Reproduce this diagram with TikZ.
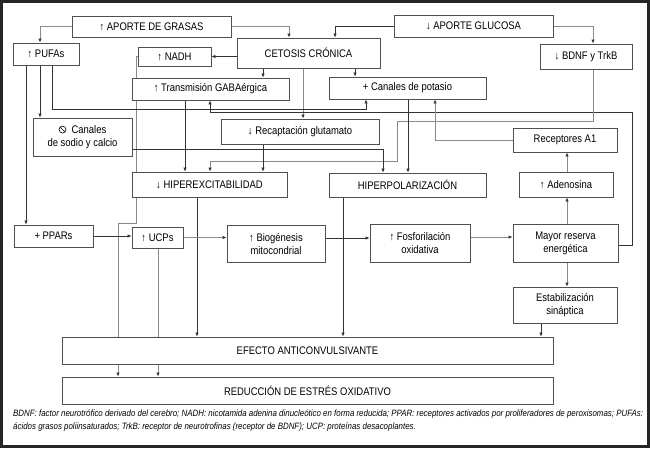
\documentclass[tikz,border=0pt]{standalone}
\usepackage{fontspec}
\setmainfont{Liberation Sans}[FakeStretch=0.86]
\usetikzlibrary{arrows.meta,backgrounds}
\definecolor{bx}{HTML}{505050}
\definecolor{lnd}{HTML}{333333}
\definecolor{lng}{HTML}{8A8A8A}
\begin{document}
\begin{tikzpicture}[x=1pt,y=-1pt,
  box/.style={draw=bx,line width=0.8pt,fill=white,inner sep=0pt,align=center,font=\fontsize{11}{13}\selectfont},
  conn/.style={draw=lnd,line width=0.7pt},
  conng/.style={draw=lng,line width=0.9pt},
  tip/.style={-{Latex[length=4pt,width=3.4pt,color=lnd]}}
]
\useasboundingbox (0,0) rectangle (650,448);
\draw[line width=2.6pt,draw=black!85] (1.3,1.3) rectangle (648.7,446.7);

\node[box,minimum width=159pt,minimum height=21pt] (grasas) at (151.5,26.5) {↑ APORTE DE GRASAS};
\node[box,minimum width=159pt,minimum height=22pt] (glucosa) at (473.5,26) {↓ APORTE GLUCOSA};
\node[box,minimum width=66pt,minimum height=22pt] (pufas) at (46,54) {↑ PUFAs};
\node[box,minimum width=73pt,minimum height=19pt] (nadh) at (174.5,56.5) {↑ NADH};
\node[box,minimum width=143pt,minimum height=30pt] (cetosis) at (308.5,53) {CETOSIS CRÓNICA};
\node[box,minimum width=92pt,minimum height=25pt] (bdnf) at (586,56.5) {↓ BDNF y TrkB};
\node[box,minimum width=157pt,minimum height=22pt] (gaba) at (210.5,89) {↑ Transmisión GABAérgica};
\node[box,minimum width=157pt,minimum height=22pt] (potasio) at (407.5,88) {+ Canales de potasio};
\node[box,minimum width=99pt,minimum height=38pt] (sodio) at (82.5,137) {\tikz[baseline=-3.8pt]{\draw[line width=0.6pt] (0pt,0pt) circle (3.5pt); \draw[line width=0.6pt] (-2.4pt,2.4pt) -- (2.4pt,-2.4pt);}\ \ Canales\\de sodio y calcio};
\node[box,minimum width=158pt,minimum height=25pt] (recap) at (300,131.5) {↓ Recaptación glutamato};
\node[box,minimum width=104pt,minimum height=24pt] (a1) at (565,140) {Receptores A1};
\node[box,minimum width=155pt,minimum height=25pt] (hiperex) at (209.5,184.5) {↓ HIPEREXCITABILIDAD};
\node[box,minimum width=157pt,minimum height=24pt] (hiperpol) at (407.5,185) {HIPERPOLARIZACIÓN};
\node[box,minimum width=94pt,minimum height=25pt] (adeno) at (566,184.5) {↑ Adenosina};
\node[box,minimum width=79pt,minimum height=22pt] (ppars) at (53.5,236) {+ PPARs};
\node[box,minimum width=51pt,minimum height=21pt] (ucps) at (157.5,237.5) {↑ UCPs};
\node[box,minimum width=98pt,minimum height=37pt] (biog) at (276,243.5) {↑ Biogénesis\\mitocondrial};
\node[box,minimum width=100pt,minimum height=38pt] (fosfo) at (420,243) {↑ Fosforilación\\oxidativa};
\node[box,minimum width=105pt,minimum height=38pt] (mayor) at (565.5,243) {Mayor reserva\\energética};
\node[box,minimum width=104pt,minimum height=36pt] (estab) at (565,305) {Estabilización\\sináptica};
\node[box,minimum width=491pt,minimum height=27pt] (efecto) at (307.5,350.5) {EFECTO ANTICONVULSIVANTE};
\node[box,minimum width=491pt,minimum height=27pt] (reduc) at (307.5,390.5) {REDUCCIÓN DE ESTRÉS OXIDATIVO};

\node[anchor=north west,inner sep=0pt,align=left,font=\fontsize{9.2}{13}\selectfont\itshape] (foot) at (13,410)
 {BDNF: factor neurotrófico derivado del cerebro; NADH: nicotamida adenina dinucleótico en forma reducida; PPAR: receptores activados por proliferadores de peroxisomas; PUFAs:\\ácidos grasos poliinsaturados; TrkB: receptor de neurotrofinas (receptor de BDNF); UCP: proteínas desacoplantes.};

\begin{scope}[on background layer]
% top sources
\draw[conng,tip] (grasas.west) -| (40,0 |- pufas.north);
\draw[conng,tip] (grasas.east) -| (289,0 |- cetosis.north);
\draw[conn,tip] (glucosa.west) -| (335,0 |- cetosis.north);
\draw[conng,tip] (glucosa.east) -| (593,0 |- bdnf.north);
% cetosis
\draw[conn,tip] (cetosis.west |- nadh.east) -- (nadh.east);
\draw[conn,tip] (263,0 |- cetosis.south) -- (263,0 |- gaba.north);
\draw[conn,tip] (355,0 |- cetosis.south) -- (355,0 |- potasio.north);
\draw[conng,tip] (303,0 |- cetosis.south) -- (303,0 |- recap.north);
% NADH -> reduccion
\draw[conng,tip] (nadh.west) -- (136,0 |- nadh.west) -- (136,223) -- (118,223) -- (118,0 |- reduc.north);
% PUFAs
\draw[conn,tip] (26,0 |- pufas.south) -- (26,0 |- ppars.north);
\draw[conn,tip] (40,0 |- pufas.south) -- (40,0 |- sodio.north);
\draw[conn,tip] (52,0 |- pufas.south) -- (52,109) -- (366,109) -- (366,0 |- potasio.south);
% mayor reserva -> GABA
\draw[conn,tip] (mayor.east |- 0,245) -- (632,245) -- (632,112.5) -- (210,112.5) -- (210,0 |- gaba.south);
% BDNF -> hiperexcitabilidad
\draw[conng,tip] (593,0 |- bdnf.south) -- (593,121) -- (397,121) -- (397,161) -- (210,161) -- (210,0 |- hiperex.north);
% sodio -> hiperpolarizacion
\draw[conn,tip] (sodio.east |- 0,149) -- (383,149) -- (383,0 |- hiperpol.north);
% to hiperexcitabilidad / hiperpolarizacion
\draw[conn,tip] (185,0 |- gaba.south) -- (185,0 |- hiperex.north);
\draw[conn,tip] (263,0 |- recap.south) -- (263,0 |- hiperex.north);
\draw[conn,tip] (408,0 |- potasio.south) -- (408,0 |- hiperpol.north);
% adenosine chain
\draw[conng,tip] (a1.west) -| (435,0 |- potasio.south);
\draw[conng,tip] (567,0 |- adeno.north) -- (567,0 |- a1.south);
\draw[conng,tip] (567,0 |- mayor.north) -- (567,0 |- adeno.south);
\draw[conng,tip] (567,0 |- mayor.south) -- (567,0 |- estab.north);
% to efecto
\draw[conn,tip] (541,0 |- estab.south) -- (541,0 |- efecto.north);
\draw[conn,tip] (343,0 |- hiperpol.south) -- (343,0 |- efecto.north);
\draw[conn,tip] (197,0 |- hiperex.south) -- (197,0 |- efecto.north);
% mitochondrial chain
\draw[conn,tip] (ppars.east) -- (ppars.east -| ucps.west);
\draw[conng,tip] (ucps.east) -- (ucps.east -| biog.west);
\draw[conn,tip] (biog.east |- 0,238) -- (fosfo.west |- 0,238);
\draw[conng,tip] (fosfo.east |- 0,237) -- (mayor.west |- 0,237);
\draw[conng,tip] (158,0 |- ucps.south) -- (158,0 |- reduc.north);
\end{scope}
\end{tikzpicture}
\end{document}
